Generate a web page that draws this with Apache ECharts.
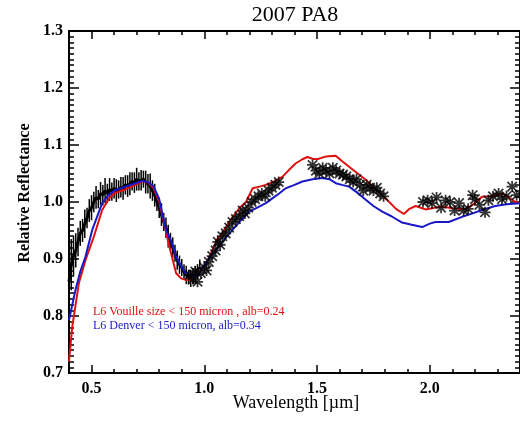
<!DOCTYPE html>
<html>
<head>
<meta charset="utf-8">
<script src="https://cdn.jsdelivr.net/npm/echarts@6/dist/echarts.min.js"></script>
<style>
  html, body { margin: 0; padding: 0; background: #fff; }
  #chart { width: 520px; height: 424px; }
</style>
</head>
<body>
<div id="chart"></div>
<script>
// visible spectrum (black, with error bars)
const visWave = [0.40,0.41,0.42,0.43,0.44,0.45,0.46,0.47,0.48,0.49,0.50,0.51,0.52,0.53,0.54,0.55,0.56,0.57,0.58,0.59,
  0.60,0.61,0.62,0.63,0.64,0.65,0.66,0.67,0.68,0.69,0.70,0.71,0.72,0.73,0.74,0.75,0.76,0.77,0.78,0.79,
  0.80,0.81,0.82,0.83,0.84,0.85,0.86,0.87,0.88,0.89,0.90,0.91,0.92,0.93,0.94,0.95,0.96,0.97,0.98];
const visRefl = [0.86,0.89,0.905,0.915,0.93,0.945,0.95,0.962,0.972,0.985,0.99,1.0,1.008,1.005,1.015,1.012,1.02,1.015,1.022,1.018,
  1.024,1.02,1.022,1.026,1.024,1.03,1.028,1.032,1.036,1.034,1.04,1.036,1.038,1.04,1.035,1.032,1.028,1.02,1.012,1.0,
  0.99,0.978,0.965,0.955,0.94,0.93,0.92,0.91,0.898,0.89,0.885,0.877,0.872,0.868,0.866,0.87,0.872,0.878,0.885];
const visErr = [0.06,0.045,0.035,0.03,0.025,0.022,0.02,0.025,0.018,0.02,0.022,0.018,0.02,0.016,0.02,0.018,0.022,0.017,0.02,0.016,
  0.018,0.02,0.016,0.018,0.02,0.017,0.019,0.02,0.016,0.018,0.02,0.016,0.018,0.015,0.02,0.017,0.022,0.018,0.02,0.016,
  0.018,0.02,0.016,0.018,0.02,0.016,0.018,0.015,0.017,0.016,0.015,0.014,0.016,0.013,0.015,0.014,0.016,0.013,0.014];

// near-IR spectrum (asterisks)
const nirWave = [0.935,0.95,0.96,0.97,0.985,1.0,1.01,1.02,1.035,1.05,1.06,1.07,1.08,1.095,1.11,
  1.125,1.14,1.155,1.17,1.18,1.195,1.21,1.225,1.24,1.255,1.27,1.285,1.3,1.315,1.33,
  1.48,1.495,1.51,1.525,1.54,1.555,1.57,1.585,1.6,1.615,1.63,1.645,1.66,1.675,1.69,1.705,1.72,1.735,1.75,1.765,1.78,1.795,
  1.97,1.99,2.01,2.03,2.05,2.07,2.09,2.11,2.13,2.15,2.17,2.19,2.2,2.22,2.245,2.26,2.28,2.305,2.32,2.34,2.365,2.385];
const nirRefl = [0.872,0.865,0.878,0.86,0.875,0.885,0.88,0.895,0.905,0.915,0.93,0.925,0.94,0.945,0.955,
  0.965,0.97,0.975,0.985,0.98,0.99,1.0,1.005,1.01,1.015,1.01,1.02,1.025,1.03,1.035,
  1.065,1.055,1.05,1.06,1.055,1.05,1.06,1.055,1.05,1.048,1.045,1.04,1.035,1.04,1.03,1.02,1.03,1.025,1.02,1.025,1.015,1.01,
  1.0,1.003,0.998,1.008,0.99,1.003,1.0,0.985,0.998,0.985,0.988,1.012,1.005,0.995,0.982,1.003,1.01,1.015,1.005,1.01,1.027,1.012];

// L6 Vouille (red)
const redWave = [0.40,0.414,0.444,0.473,0.51,0.547,0.58,0.606,0.65,0.695,0.724,0.75,0.776,0.80,0.815,0.845,0.875,0.897,0.92,0.948,
  0.975,1.007,1.03,1.059,1.08,1.11,1.155,1.185,1.214,1.245,1.273,1.31,1.346,1.375,1.406,1.435,1.457,1.48,1.501,1.54,
  1.583,1.61,1.642,1.68,1.716,1.75,1.789,1.82,1.85,1.885,1.91,1.937,1.96,1.981,2.02,2.055,2.1,2.158,2.19,2.231,
  2.27,2.32,2.35,2.38,2.4];
const redRefl = [0.72,0.78,0.858,0.898,0.939,0.986,1.008,1.016,1.022,1.03,1.036,1.034,1.024,1.0,0.974,0.922,0.875,0.866,0.863,0.865,
  0.878,0.892,0.91,0.936,0.945,0.965,0.989,1.0,1.024,1.027,1.03,1.036,1.044,1.056,1.068,1.075,1.079,1.076,1.075,1.08,
  1.081,1.072,1.062,1.05,1.039,1.026,1.012,1.0,0.988,0.979,0.988,0.993,0.99,0.987,0.99,0.992,0.989,0.987,0.995,1.009,
  1.01,1.015,1.008,1.0,0.998];

// L6 Denver (blue)
const blueWave = [0.40,0.429,0.45,0.473,0.503,0.547,0.575,0.606,0.65,0.695,0.724,0.75,0.776,0.80,0.83,0.855,0.875,0.9,0.919,0.948,
  0.97,0.992,1.02,1.052,1.09,1.125,1.16,1.199,1.235,1.273,1.30,1.332,1.361,1.40,1.435,1.48,1.523,1.555,1.583,1.61,
  1.642,1.68,1.716,1.75,1.789,1.83,1.877,1.92,1.966,2.0,2.025,2.084,2.143,2.19,2.231,2.29,2.34,2.4];
const blueRefl = [0.793,0.846,0.878,0.904,0.951,0.998,1.012,1.021,1.027,1.033,1.037,1.035,1.027,1.005,0.951,0.93,0.904,0.885,0.875,0.869,
  0.873,0.884,0.9,0.916,0.935,0.951,0.967,0.983,0.99,0.998,1.006,1.015,1.024,1.03,1.036,1.04,1.042,1.04,1.033,1.03,
  1.027,1.016,1.004,0.993,0.983,0.975,0.964,0.96,0.956,0.962,0.965,0.965,0.974,0.98,0.986,0.993,0.996,0.998];

const xMajor = [0.5, 1.0, 1.5, 2.0];

const zip = (a, b) => a.map((v, i) => [v, b[i]]);
const serif = '"Liberation Serif", "DejaVu Serif", serif';
const asterisk = 'path://M4.2,0H5.8V10H4.2Z M0,4.2H10V5.8H0Z M0.2,1.3L1.3,0.2L9.8,8.7L8.7,9.8Z M8.7,0.2L9.8,1.3L1.3,9.8L0.2,8.7Z';

var myChart = echarts.init(document.getElementById('chart'));

const xBase = {
    type: 'value', min: 0.4, max: 2.4, splitLine: { show: false }
};
const yBase = {
    type: 'value', min: 0.7, max: 1.3, interval: 0.1, splitLine: { show: false }
};

myChart.setOption({
    animation: false,
    grid: { left: 69, top: 31, width: 452, height: 342 },
    xAxis: [
        Object.assign({}, xBase, {
            position: 'bottom', interval: 0.1,
            axisLine: { show: true, onZero: false, lineStyle: { color: '#000', width: 2 } },
            axisTick: { inside: true, length: 4, lineStyle: { color: '#000', width: 1.5 } },
            axisLabel: {
                customValues: xMajor, formatter: v => v.toFixed(1),
                color: '#000', fontFamily: serif, fontWeight: 'bold', fontSize: 16, margin: 8
            }
        }),
        Object.assign({}, xBase, {
            position: 'bottom',
            axisLine: { show: false },
            axisTick: { inside: true, length: 8, customValues: xMajor, lineStyle: { color: '#000', width: 1.5 } },
            axisLabel: { show: false }
        }),
        Object.assign({}, xBase, {
            position: 'top', interval: 0.1,
            axisLine: { show: true, onZero: false, lineStyle: { color: '#000', width: 2 } },
            axisTick: { inside: true, length: 4, lineStyle: { color: '#000', width: 1.5 } },
            axisLabel: { show: false }
        }),
        Object.assign({}, xBase, {
            position: 'top',
            axisLine: { show: false },
            axisTick: { inside: true, length: 8, customValues: xMajor, lineStyle: { color: '#000', width: 1.5 } },
            axisLabel: { show: false }
        })
    ],
    yAxis: [
        Object.assign({}, yBase, {
            position: 'left',
            axisLine: { show: true, onZero: false, lineStyle: { color: '#000', width: 2 } },
            axisTick: { inside: true, length: 10, lineStyle: { color: '#000', width: 1.5 } },
            minorTick: { show: true, splitNumber: 10, length: 5, lineStyle: { color: '#000', width: 1.5 } },
            axisLabel: {
                formatter: v => v.toFixed(1),
                color: '#000', fontFamily: serif, fontWeight: 'bold', fontSize: 16, margin: 6
            }
        }),
        Object.assign({}, yBase, {
            position: 'right',
            axisLine: { show: true, onZero: false, lineStyle: { color: '#000', width: 2 } },
            axisTick: { inside: true, length: 10, lineStyle: { color: '#000', width: 1.5 } },
            minorTick: { show: true, splitNumber: 10, length: 5, lineStyle: { color: '#000', width: 1.5 } },
            axisLabel: { show: false }
        })
    ],
    graphic: [
        { type: 'text', x: 295, y: 15, style: { text: '2007 PA8', textAlign: 'center', textVerticalAlign: 'middle', font: '22px ' + serif, fill: '#000' } },
        { type: 'text', x: 296, y: 403, style: { text: 'Wavelength [µm]', textAlign: 'center', textVerticalAlign: 'middle', font: '18px ' + serif, fill: '#000' } },
        { type: 'text', x: 25, y: 193, rotation: Math.PI / 2, style: { text: 'Relative Reflectance', textAlign: 'center', textVerticalAlign: 'middle', font: 'bold 16px ' + serif, fill: '#000' } },
        { type: 'text', x: 93, y: 312, style: { text: 'L6 Vouille size < 150 micron , alb=0.24', textVerticalAlign: 'middle', font: '12px ' + serif, fill: '#e01010' } },
        { type: 'text', x: 93, y: 326, style: { text: 'L6 Denver < 150 micron, alb=0.34', textVerticalAlign: 'middle', font: '12px ' + serif, fill: '#1818c8' } }
    ],
    series: [
        {
            type: 'custom', xAxisIndex: 0, yAxisIndex: 0,
            data: visWave.map((w, i) => [w, visRefl[i], visErr[i]]),
            renderItem: function (params, api) {
                const x = api.value(0), y = api.value(1), e = api.value(2);
                const p1 = api.coord([x, y - e]);
                const p2 = api.coord([x, y + e]);
                return { type: 'line', shape: { x1: p1[0], y1: p1[1], x2: p2[0], y2: p2[1] }, style: { stroke: '#000', lineWidth: 1.5 } };
            },
            z: 1
        },
        {
            type: 'line', xAxisIndex: 0, yAxisIndex: 0, data: zip(visWave, visRefl),
            showSymbol: false, lineStyle: { color: '#000', width: 3 }, z: 2
        },
        {
            type: 'line', xAxisIndex: 0, yAxisIndex: 0, data: zip(redWave, redRefl),
            showSymbol: false, lineStyle: { color: '#e01010', width: 2 }, z: 3
        },
        {
            type: 'line', xAxisIndex: 0, yAxisIndex: 0, data: zip(blueWave, blueRefl),
            showSymbol: false, lineStyle: { color: '#1818c8', width: 2 }, z: 4
        },
        {
            type: 'scatter', xAxisIndex: 0, yAxisIndex: 0, data: zip(nirWave, nirRefl),
            symbol: asterisk, symbolSize: 11, itemStyle: { color: '#000' }, z: 5
        }
    ]
});
</script>
</body>
</html>
